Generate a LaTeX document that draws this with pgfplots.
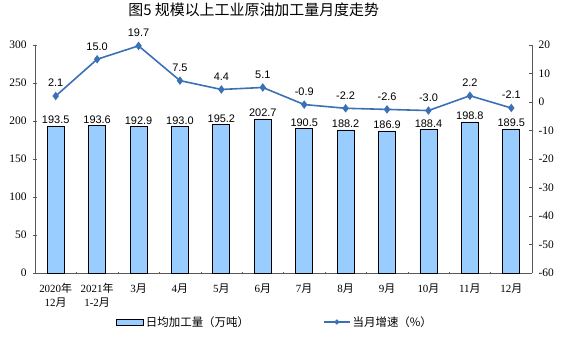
\documentclass[border=0pt]{standalone}
\usepackage{pgfplots}
\pgfplotsset{compat=1.18}
\usepackage{fontspec}
\setmainfont{Liberation Serif}
\newfontfamily\cjk{Noto Sans CJK SC}
\newfontfamily\arial{Liberation Sans}
\definecolor{barblue}{RGB}{153,204,255}
\definecolor{linec}{RGB}{58,112,181}
\newcommand\nian{{\cjk 年}}
\newcommand\yue{{\cjk 月}}
\begin{document}
\begin{tikzpicture}
\useasboundingbox (-35bp,-79bp) rectangle (528bp,273bp);
\begin{axis}[
  at={(0,0)}, anchor=south west,
  scale only axis, width=497bp, height=228bp,
  xmin=-0.5, xmax=11.5, ymin=0, ymax=300,
  axis y line*=left, axis x line*=bottom,
  axis line style={draw=gray!70!black, line width=0.6pt},
  tick align=center,
  ytick={0,50,100,150,200,250,300},
  yticklabels={0,50,100,150,200,250,300},
  yticklabel style={font=\fontsize{11.5}{13}\selectfont, xshift=-3bp},
  ytick style={draw=gray!70!black},
  major tick length=4bp,
  xtick={0,...,11},
  xticklabels={{2020\nian\\12\yue},{2021\nian\\1-2\yue},3\yue,4\yue,5\yue,6\yue,7\yue,8\yue,9\yue,10\yue,11\yue,12\yue},
  xticklabel style={align=center, font=\fontsize{11}{14}\selectfont, yshift=-5bp},
  major x tick style={draw=none},
  minor xtick={0.5,1.5,...,10.5},
  minor x tick style={draw=gray!70!black},
  minor tick length=3bp,
  clip=false,
]
\addplot[ybar, bar width=17bp, fill=barblue, draw=black, line width=0.8pt,
  nodes near coords, point meta=explicit symbolic,
  every node near coord/.append style={font=\arial\fontsize{11}{12}\selectfont, black, inner sep=1.5bp}]
  coordinates {(0,193.5)[193.5] (1,193.6)[193.6] (2,192.9)[192.9] (3,193.0)[193.0]
   (4,195.2)[195.2] (5,202.7)[202.7] (6,190.5)[190.5] (7,188.2)[188.2]
   (8,186.9)[186.9] (9,188.4)[188.4] (10,198.8)[198.8] (11,189.5)[189.5]};
\end{axis}
\begin{axis}[
  at={(0,0)}, anchor=south west,
  scale only axis, width=497bp, height=228bp,
  xmin=-0.5, xmax=11.5, ymin=-60, ymax=20,
  axis y line*=right, axis x line=none,
  axis line style={draw=gray!70!black, line width=0.6pt},
  tick align=inside, major tick length=3bp,
  ytick={-60,-50,-40,-30,-20,-10,0,10,20},
  yticklabels={-60,-50,-40,-30,-20,-10,0,10,20},
  yticklabel style={font=\fontsize{11.5}{13}\selectfont, xshift=3bp},
  ytick style={draw=gray!70!black},
  clip=false,
  title={\cjk 图5\ 规模以上工业原油加工量月度走势},
  title style={at={(0.44,1)}, anchor=center, yshift=29bp, font=\fontsize{15}{17}\selectfont},
  legend style={at={(0.483,-0.215)}, anchor=center, draw=none, fill=none,
    legend columns=2, font=\cjk\fontsize{11.5}{13}\selectfont,
    /tikz/every even column/.append style={column sep=72bp},
    nodes={inner xsep=2bp}},
]
\addlegendimage{legend image code/.code={\draw[fill=barblue,draw=black,line width=0.8pt] (0bp,-3bp) rectangle (27bp,3bp);}}
\addlegendentry{日均加工量（万吨）}
\addplot[color=linec, line width=1.6pt, mark=diamond*, mark size=3pt,
  nodes near coords, point meta=explicit symbolic,
  every node near coord/.append style={font=\arial\fontsize{11}{12}\selectfont, black, yshift=5bp},
  legend image code/.code={\draw[color=linec, line width=1.6pt] (0bp,0bp) -- (26bp,0bp); \fill[linec] (13bp,0bp) circle (1.6bp);}]
  coordinates {(0,2.1)[2.1] (1,15.0)[15.0] (2,19.7)[19.7] (3,7.5)[7.5]
   (4,4.4)[4.4] (5,5.1)[5.1] (6,-0.9)[-0.9] (7,-2.2)[-2.2]
   (8,-2.6)[-2.6] (9,-3.0)[-3.0] (10,2.2)[2.2] (11,-2.1)[-2.1]};
\addlegendentry{当月增速（\%）}
\end{axis}
\end{tikzpicture}
\end{document}
